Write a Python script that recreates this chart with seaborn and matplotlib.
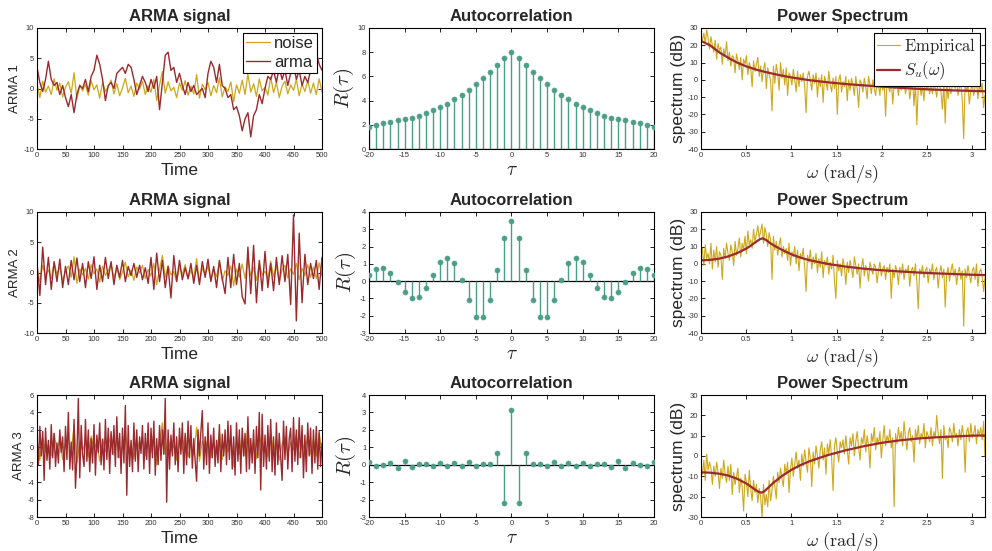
import numpy as np
import pandas as pd
import matplotlib
matplotlib.use("Agg")
import matplotlib.pyplot as plt
import seaborn as sns

# ---------------- data ----------------
time_grid_end = 500

noise = [
    0.8, -1.5, 1.2, -0.6, 0.4, -1.0, 1.6, -0.3, 0.9, -1.4,
    0.2, 1.1, -0.8, 2.6, -1.8, 0.6, -0.4, 0.7, -1.1, 1.3,
    -0.2, 0.6, -1.6, 1.0, -0.5, 0.3, 1.4, -0.9, 0.8, -1.2,
    0.1, 1.7, -0.7, 0.4, -1.3, 0.9, -0.1, 1.2, -1.0, 0.5,
    -0.6, 1.5, -2.0, 0.6, 2.8, -0.8, 1.1, -0.4, 0.2, -1.5,
    0.9, -0.3, 1.3, -1.1, 0.4, -0.9, 2.3, -1.6, 0.7, -0.2,
    1.0, -1.2, 0.5, -0.7, 1.8, -1.4, 0.3, -0.5, 1.1, -2.2,
    0.6, -0.8, 1.4, -1.0, 2.4, -0.6, 0.8, -1.3, 1.6, -0.4,
    0.2, -1.1, 1.9, -0.7, 1.0, -1.5, 0.4, 1.2, -0.9, 0.6,
    -0.3, 1.5, -1.2, 0.7, -0.5, 1.3, -0.8, 0.9, -1.0, 1.6,
    -0.6,
]

arma1 = [
    3.5, 1.0, -0.5, 1.5, 4.5, 1.5, 0.5, 1.0, -1.0, 0.5,
    -1.5, -3.0, -1.0, -4.0, -1.0, 0.5, 0.0, 1.5, -0.5, 2.0,
    3.0, 5.5, 4.0, 1.5, -2.0, 0.5, 1.0, 0.0, 2.5, 3.0,
    3.5, 2.5, 4.0, 3.5, 1.5, -1.0, 0.5, 2.0, 1.0, -0.5,
    1.5, 0.0, 2.0, -3.5, 1.0, 5.5, 6.0, 3.0, 3.5, 1.0,
    2.5, 0.5, -1.0, 1.0, -0.5, 0.5, -1.0, -0.5, 0.0, -1.5,
    2.5, 4.5, 3.5, 1.0, 4.0, 0.5, 0.0, -1.5, -1.0, -3.5,
    -3.0, -4.5, -7.0, -5.0, -4.0, -8.0, -4.5, -3.5, -1.0, -2.5,
    0.0, 2.0, 1.5, 3.0, 1.0, 3.5, 1.5, 3.0, 0.5, 2.5,
    4.0, 1.5, 3.0, 0.5, 2.0, 1.0, 3.0, 2.5, 6.0, 4.0,
    3.0,
]

arma2 = [
    1.5, -3.8, 4.2, -2.0, 2.5, -2.8, 1.8, -1.5, 2.2, -2.5,
    1.0, -2.0, 2.0, -1.2, 2.4, -1.5, 1.5, -2.5, 1.8, -1.0,
    2.6, -2.8, 1.2, -1.5, 2.5, -1.0, 1.8, -2.0, 1.2, -0.8,
    2.0, -1.5, 1.0, -0.5, 1.5, -0.8, 1.2, -1.2, 0.8, -1.8,
    2.5, -2.8, 3.2, -1.5, 2.0, -2.5, 1.0, -4.2, 2.8, -1.5,
    2.0, -1.2, 0.8, -1.0, 1.5, -1.8, 1.2, -2.0, 1.8, -0.8,
    2.2, -1.5, 1.0, -2.5, 2.0, -1.0, -3.5, 2.5, -2.5, 3.0,
    -2.0, 1.5, -4.0, -5.2, 4.2, -3.5, 4.5, -5.0, 2.0, -3.0,
    3.5, -2.5, 1.5, -3.0, 2.5, -2.0, 2.8, -1.5, 3.0, -5.3,
    9.5, -8.0, 6.5, -5.0, 3.0, -2.0, 1.5, -1.0, 2.0, -2.8,
    2.5,
]

arma3 = [
    1.5, -2.0, 2.4, -1.0, 1.8, -3.8, 2.2, -1.5, 0.8, -2.5, 2.6, -1.2, 1.6, -2.2, 0.5, -1.8, 2.0, -0.6, 1.2, -2.8,
    2.4, -1.4, 4.0, -2.5, 0.6, -2.6, 3.2, -4.7, -1.0, 5.6, -3.5, 2.5, -0.8, -2.2, 3.2, -1.6, 2.0, -2.8, 1.0, -1.8,
    2.6, -3.2, 1.4, -0.6, 2.8, -2.0, 0.9, -2.6, 3.2, -1.4, 2.2, -3.0, 1.8, -0.8, 2.5, -2.2, 3.5, -1.2, 1.6, -3.0,
    2.2, -1.8, 4.8, -5.5, 2.5, -2.2, 0.8, -2.8, 2.8, -1.6, 2.0, -2.8, 1.2, -0.7, 2.5, -2.5, 1.6, -1.4, 2.8, -3.0,
    2.2, -1.2, 3.0, -3.2, 1.0, -2.0, 2.5, -1.5, 2.0, -0.8, 5.6, -6.3, 2.0, -2.5, 1.4, -1.0, 2.8, -2.0, 1.2, -2.8,
    2.2, -0.8, 2.8, -3.0, 1.6, -2.0, 3.0, -1.2, 2.5, -2.4, 1.0, -1.6, -3.9, 2.0, -1.0, 1.8, 4.2, -2.5, 1.2, -2.0,
    2.8, -3.0, 1.4, -1.2, 2.2, -2.2, 0.8, -1.8, 2.6, -2.8, 1.5, -1.0, 2.0, -2.0, 3.0, -1.4, 2.5, -2.5, 1.2, -3.2,
    2.8, -1.6, 2.0, -3.0, 2.2, -1.0, 1.6, -2.8, 3.5, -2.5, 1.0, -1.8, 2.0, -3.0, 2.4, -1.2, 4.0, -4.9, 3.8, -2.2,
    1.4, -2.5, 2.5, -1.6, 3.2, -2.8, 1.2, -3.2, 2.8, -2.0, 1.6, -1.0, -3.8, 3.0, -1.4, 2.4, -2.5, 1.0, 2.2, -2.8,
    3.4, -1.6, 2.0, -2.0, 3.4, -1.2, 2.5, -3.5, 1.4, -2.8, 2.8, -1.0, 2.2, -3.0, 2.0, -1.8, 2.4, -2.5, 1.8, -2.2,
    0.5,
]

tau = list(range(-20, 21))
R1 = [1.8, 2.0, 2.15, 2.25, 2.4, 2.5, 2.6, 2.75, 2.95, 3.2, 3.45, 3.75, 4.1, 4.5,
      4.9, 5.35, 5.85, 6.4, 6.95, 7.5, 8.0, 7.5, 6.95, 6.4, 5.85, 5.35, 4.9, 4.5,
      4.1, 3.75, 3.45, 3.2, 2.95, 2.75, 2.6, 2.5, 2.4, 2.25, 2.15, 2.0, 1.8]
R2 = [0.35, 0.7, 0.75, 0.5, -0.03, -0.6, -0.95, -0.9, -0.38, 0.38, 1.1, 1.35, 1.05,
      0.08, -1.1, -2.05, -2.1, -1.1, 0.65, 2.5, 3.5, 2.5, 0.65, -1.1, -2.1, -2.05,
      -1.1, 0.08, 1.05, 1.35, 1.1, 0.38, -0.38, -0.9, -0.95, -0.6, -0.03, 0.5, 0.75,
      0.7, 0.35]
R3 = [0.15, -0.1, -0.02, 0.12, -0.2, 0.2, -0.12, 0.02, 0.05, -0.1, 0.08, -0.08,
      0.08, -0.1, 0.15, -0.1, 0.02, 0.02, 0.7, -2.2, 3.15, -2.2, 0.7, 0.02, 0.02,
      -0.1, 0.15, -0.1, 0.08, -0.08, 0.08, -0.1, 0.05, 0.02, -0.12, 0.2, -0.2, 0.12,
      -0.02, -0.1, 0.15]

emp1 = [
    26, 23, 27, 21, 29, 24, 18, 25, 20, 16, 23, 12, 21, 17, 19, 9, 18, 14, 22, 11,
    16, 8, 14, 13, 4, 15, 11, 6, 13, 0, 12, 9, 14, 3, 10, 7, -4, 11, 5, 9,
    13, 2, 8, -1, 6, 10, -5, 7, 3, 0, -18, 8, -2, 9, 4, -6, 10, 1, 6, -3,
    7, -9, 4, 2, -3, 6, 0, -7, 5, -4, 3, -1, 4, -4, -19, 2, 5, 0, -6, 3,
    -2, 4, -10, 1, -4, 3, -13, 2, -1, -6, 5, -3, -7, 1, -5, 2, -20, 0, 3, -7,
    -1, -4, 2, -12, 0, -6, 1, -3, -9, 2, -5, -16, 0, -2, -7, 1, -4, -11, 2, -3,
    -8, 0, -5, -9, -1, -3, -9, 1, -6, -2, -21, 0, -4, -7, 1, -14, -3, -5, 0, -9,
    -2, -6, -4, 0, -8, -3, -1, -11, -5, 0, -15, -2, -26, -4, -1, -9, -3, -12, 0, -6,
    -2, -8, -4, -8, -1, -5, -10, 0, -3, -7, -17, -2, -25, -1, -11, -4, -8, -3, -3, -5,
    0, -9, -4, -2, -12, -34, -1, -7, -3, -14, -6, -2, -9, -4, 0, -11, -3, -7, -2, -16,
    -9,
]
emp2 = [
    4, 9, -1, 11, 3, 6, 0, 12, -3, 8, 1, 10, -2, 7, 5, -9, 9, 3, 12, 6,
    2, 11, 7, -1, 13, 5, 9, 15, 4, 12, 8, 16, 6, 19, 11, 14, 9, 20, 13, 17,
    22, 15, 19, 23, 12, 21, 17, 10, 18, 14, -9, 16, 8, 13, 5, 11, 15, 4, 10, 6,
    9, 2, 12, -1, 7, 4, 10, 0, 8, -4, 6, 3, 9, -2, -16, 5, 1, 8, -3, 4,
    0, 6, -5, 3, -2, 7, -8, 2, -1, 4, -6, 1, -3, 5, -10, -20, 2, -4, 0, -7,
    3, -2, -12, 1, -5, 2, -3, -8, 4, -1, -6, 0, -14, -2, 3, -7, -1, -4, -10, 1,
    -3, -6, 0, -2, -11, -4, 1, -7, -3, -1, -9, -2, -5, 0, -20, -3, -8, -1, -4, -12,
    -2, -6, 0, -9, -3, -5, -1, -13, -4, -2, -7, 0, -10, -26, -3, -6, -1, -8, -4, -2,
    -11, -3, -6, 0, -9, -4, -2, -14, -5, -1, -8, -3, -25, -6, -2, -10, -4, 0, -7, -3,
    -12, -5, -2, -9, -4, -36, -3, -8, -1, -6, -11, -4, -2, -9, 0, -13, -5, -3, -7, -16,
    -8,
]
emp3 = [
    -4, -9, -2, -12, 1, -7, -3, -6, -14, -5, -10, -3, -8, -16, -6, -11, -2, -9, -13, -5,
    -12, -4, -19, -8, -14, -10, -6, -18, -11, -15, -27, -9, -13, -20, -7, -16, -22, -12, -18, -14,
    -23, -16, -20, -30, -14, -24, -19, -25, -12, -22, -17, -10, -15, -21, -8, -13, -6, -11, -15, -4,
    -9, -3, -18, -7, -1, -10, -4, 2, -6, -2, -12, 1, -5, 3, -3, -8, 4, -1, -15, 2,
    -4, 5, 0, -6, 3, 7, -2, 4, -9, 6, 1, 8, -1, -17, 5, 9, 2, -3, 7, 4,
    8, 1, 10, 3, -4, 9, 5, 11, 0, 7, 12, 4, -2, 9, 6, 13, 2, 10, 5, -6,
    11, 7, 14, 3, 9, 6, 12, -1, 8, 15, 5, 10, 7, 13, 4, 9, -25, 11, 6, 14,
    8, 12, 5, 17, 9, 3, 11, 14, 7, 10, -3, 13, 8, 15, 6, 11, 9, 16, 4, 12,
    10, 7, 14, 5, 12, 9, 20, 11, 6, 13, -11, 15, 8, 10, 4, 14, 12, 7, 16, 9,
    11, 5, 13, 8, 15, 10, -8, 12, 14, 7, 16, 9, 11, 15, 6, 13, 10, 14, 8, 17,
    0,
]

om1 = [0, 0.1, 0.2, 0.3, 0.4, 0.5, 0.6, 0.7, 0.8, 0.9, 1.0, 1.2, 1.4, 1.6, 1.8,
       2.0, 2.2, 2.4, 2.6, 2.8, 3.0, 3.1416]
S1 = [22.5, 20, 16, 12.8, 10, 7.8, 6.1, 4.7, 3.5, 2.4, 1.4, -0.2, -1.4, -2.4, -3.2,
      -3.9, -4.6, -5.2, -5.7, -6.1, -6.4, -6.6]
om2 = [0, 0.1, 0.2, 0.3, 0.4, 0.5, 0.55, 0.6, 0.65, 0.68, 0.72, 0.76, 0.8, 0.9, 1.0,
       1.1, 1.2, 1.4, 1.6, 1.8, 2.0, 2.2, 2.4, 2.6, 2.8, 3.0, 3.1416]
S2 = [2, 2.3, 3, 4.3, 6.2, 8.8, 10.5, 12.4, 14.2, 14.8, 13.8, 12.2, 10.8, 8, 5.5,
      3.6, 2.1, 0, -1.6, -2.8, -3.7, -4.4, -5, -5.5, -5.9, -6.3, -6.5]
om3 = [0, 0.1, 0.2, 0.3, 0.4, 0.5, 0.55, 0.6, 0.64, 0.67, 0.7, 0.75, 0.8, 0.9, 1.0,
       1.1, 1.2, 1.4, 1.6, 1.8, 2.0, 2.2, 2.4, 2.6, 2.8, 3.0, 3.1416]
S3 = [-8, -8.2, -8.7, -9.6, -11.2, -13.5, -15, -16.6, -17.7, -18, -17.4, -15.3, -13.2,
      -9.7, -6.8, -4.5, -2.6, 0.4, 2.8, 4.8, 6.5, 7.7, 8.6, 9.2, 9.6, 10, 10.1]

row_names = ["ARMA 1", "ARMA 2", "ARMA 3"]
armas = [arma1, arma2, arma3]
Rs = [R1, R2, R3]
emps = [emp1, emp2, emp3]
models = [(om1, S1), (om2, S2), (om3, S3)]

sig_ylims = [(-10, 10), (-10, 10), (-8, 6)]
sig_yticks = [[-10, -5, 0, 5, 10], [-10, -5, 0, 5, 10], [-8, -6, -4, -2, 0, 2, 4, 6]]
acf_ylims = [(0, 10), (-3, 4), (-3, 4)]
acf_yticks = [[0, 2, 4, 6, 8, 10], list(range(-3, 5)), list(range(-3, 5))]
psd_ylims = [(-40, 30), (-40, 30), (-30, 30)]
psd_yticks = [list(range(-40, 31, 10)), list(range(-40, 31, 10)), list(range(-30, 31, 10))]

# ---------------- style ----------------
sns.set_theme(style="white")
plt.rcParams['font.family'] = ['Liberation Sans', 'DejaVu Sans']
plt.rcParams['mathtext.fontset'] = 'cm'
plt.rcParams['axes.unicode_minus'] = False

YEL = '#cfa71a'
RED = '#9b2a2e'
GRN = '#4c9f87'

W, H = 992, 551
fig = plt.figure(figsize=(W / 100, H / 100), dpi=100)


def add_ax(l, t, r, b):
    return fig.add_axes([l / W, 1 - b / H, (r - l) / W, (b - t) / H])


def style(ax):
    for s in ax.spines.values():
        s.set_visible(True)
        s.set_color('black')
        s.set_linewidth(0.8)
    ax.tick_params(direction='in', length=3, width=0.6, labelsize=5.5,
                   top=True, right=True, bottom=True, left=True,
                   color='black', labelcolor='#333333', pad=2)


def legend(ax):
    leg = ax.legend(loc='upper right', fontsize=12, frameon=True, fancybox=False,
                    edgecolor='black', framealpha=1, handlelength=1.4,
                    handletextpad=0.25, borderpad=0.2, labelspacing=0.2,
                    borderaxespad=0.3)
    leg.get_frame().set_linewidth(0.8)


cols = [(37, 322), (369, 654), (701, 985)]
rows = [(28, 149), (212, 333), (395, 517)]

for i in range(3):
    t0, t1 = rows[i]
    # ---- signal ----
    ax = add_ax(cols[0][0], t0, cols[0][1], t1)
    dfn = pd.DataFrame({'t': np.linspace(0, time_grid_end, len(noise)), 'noise': noise})
    dfs = pd.DataFrame({'t': np.linspace(0, time_grid_end, len(armas[i])), 'arma': armas[i]})
    sns.lineplot(data=dfn, x='t', y='noise', ax=ax, color=YEL, lw=0.9,
                 label='noise' if i == 0 else None, sort=False, errorbar=None)
    sns.lineplot(data=dfs, x='t', y='arma', ax=ax, color=RED, lw=1.0,
                 label='arma' if i == 0 else None, sort=False, errorbar=None)
    ax.set_xlim(0, 500)
    ax.set_ylim(*sig_ylims[i])
    ax.set_xticks(range(0, 501, 50))
    ax.set_yticks(sig_yticks[i])
    ax.set_title('ARMA signal', fontsize=12, fontweight='bold', pad=5)
    ax.set_xlabel('Time', fontsize=12.5, labelpad=3)
    ax.set_ylabel(row_names[i], fontsize=9.5, labelpad=2)
    style(ax)
    if i == 0:
        legend(ax)
    elif ax.get_legend():
        ax.get_legend().remove()

    # ---- autocorrelation ----
    ax = add_ax(cols[1][0], t0, cols[1][1], t1)
    dfa = pd.DataFrame({'tau': tau, 'R': Rs[i]})
    ax.vlines(dfa['tau'], 0, dfa['R'], color=GRN, lw=1.0, zorder=2)
    ax.axhline(0, color='black', lw=0.9, zorder=1)
    sns.scatterplot(data=dfa, x='tau', y='R', ax=ax, color=GRN, s=14,
                    edgecolor=GRN, linewidth=0.3, zorder=3)
    ax.set_xlim(-20, 20)
    ax.set_ylim(*acf_ylims[i])
    ax.set_xticks(range(-20, 21, 5))
    ax.set_yticks(acf_yticks[i])
    ax.set_title('Autocorrelation', fontsize=12, fontweight='bold', pad=5)
    ax.set_xlabel(r'$\tau$', fontsize=14, labelpad=2)
    ax.set_ylabel(r'$R(\tau)$', fontsize=15, labelpad=1)
    style(ax)

    # ---- power spectrum ----
    ax = add_ax(cols[2][0], t0, cols[2][1], t1)
    dfe = pd.DataFrame({'omega': np.linspace(0, np.pi, len(emps[i])), 'emp': emps[i]})
    dfm = pd.DataFrame({'omega': models[i][0], 'S': models[i][1]})
    sns.lineplot(data=dfe, x='omega', y='emp', ax=ax, color=YEL, lw=0.8,
                 label=r'$\mathrm{Empirical}$' if i == 0 else None, sort=False,
                 errorbar=None)
    sns.lineplot(data=dfm, x='omega', y='S', ax=ax, color=RED, lw=1.6,
                 label=r'$S_u(\omega)$' if i == 0 else None, sort=False,
                 errorbar=None)
    ax.set_xlim(0, np.pi)
    ax.set_ylim(*psd_ylims[i])
    ax.set_xticks([0, 0.5, 1, 1.5, 2, 2.5, 3])
    ax.set_xticklabels(['0', '0.5', '1', '1.5', '2', '2.5', '3'])
    ax.set_yticks(psd_yticks[i])
    ax.set_title('Power Spectrum', fontsize=12, fontweight='bold', pad=5)
    ax.set_xlabel(r'$\omega\ (\mathrm{rad/s})$', fontsize=13, labelpad=2)
    ax.set_ylabel('spectrum (dB)', fontsize=12.5, labelpad=1)
    style(ax)
    if i == 0:
        legend(ax)
    elif ax.get_legend():
        ax.get_legend().remove()

fig.savefig('out.png', dpi=100)
